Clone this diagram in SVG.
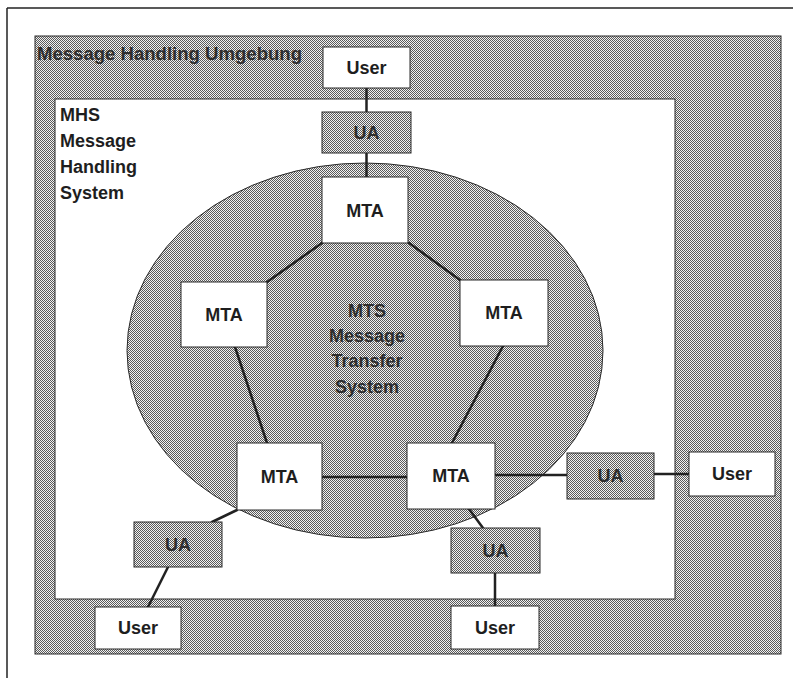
<svg xmlns="http://www.w3.org/2000/svg" width="799" height="678" viewBox="0 0 799 678">
<defs>
<pattern id="dots" width="2" height="2" patternUnits="userSpaceOnUse">
<rect width="2" height="2" fill="#f2f2f2"/>
<rect width="1" height="1" fill="#5a5a5a"/>
<rect x="1" y="1" width="1" height="1" fill="#5a5a5a"/>
</pattern>
<style>
text{font-family:"Liberation Sans",Arial,sans-serif;font-weight:bold;font-size:18px;}
.lbl{fill:#1e1e1e;text-anchor:middle;}
.dim{fill:#2e2e2e;}
.dimc{fill:#2e2e2e;text-anchor:middle;}
.white{fill:#ffffff;stroke:#2a2a2a;stroke-width:1;}
.gray{fill:url(#dots);stroke:#2a2a2a;stroke-width:1;}
.conn line{stroke:#222;stroke-width:2.5;stroke-linecap:round;}
</style>
</defs>
<rect width="799" height="678" fill="#ffffff"/>
<g id="frame" stroke="#222" stroke-width="1.5" fill="none">
<line x1="7" y1="8" x2="793" y2="8"/>
<line x1="7" y1="8" x2="7" y2="678"/>
</g>
<g id="environment">
<rect class="gray" x="35" y="36" width="746" height="618"/>
<text class="dim" x="37" y="60" textLength="265" lengthAdjust="spacingAndGlyphs">Message Handling Umgebung</text>
</g>
<g id="mhs">
<rect class="white" x="55" y="99" width="620" height="500"/>
<text class="lbl" style="text-anchor:start" x="60" y="121">MHS</text>
<text class="lbl" style="text-anchor:start" x="60" y="147">Message</text>
<text class="lbl" style="text-anchor:start" x="60" y="173">Handling</text>
<text class="lbl" style="text-anchor:start" x="60" y="199">System</text>
</g>
<g id="mts">
<ellipse class="gray" cx="365" cy="350.5" rx="238" ry="187.5"/>
<text class="dimc" x="367" y="317">MTS</text>
<text class="dimc" x="367" y="342">Message</text>
<text class="dimc" x="367" y="367">Transfer</text>
<text class="dimc" x="367" y="393">System</text>
</g>
<g id="connectors" class="conn">
<line x1="366.5" y1="88" x2="366.5" y2="112"/>
<line x1="366.5" y1="153" x2="366.5" y2="177"/>
<line x1="322" y1="243" x2="267" y2="282"/>
<line x1="409" y1="243" x2="460" y2="280"/>
<line x1="235" y1="347" x2="267" y2="443"/>
<line x1="503" y1="346" x2="452" y2="443"/>
<line x1="322" y1="477" x2="407" y2="477"/>
<line x1="495" y1="475" x2="567" y2="475"/>
<line x1="654" y1="474" x2="689" y2="474"/>
<line x1="469" y1="509" x2="483" y2="528"/>
<line x1="495" y1="573" x2="495" y2="606"/>
<line x1="237" y1="510" x2="212" y2="522"/>
<line x1="168" y1="567" x2="148" y2="607"/>
</g>
<g id="user-top">
<rect class="white" x="323" y="47" width="87" height="41"/>
<text class="lbl" x="366.5" y="74">User</text>
</g>
<g id="ua-top">
<rect class="gray" x="322" y="112" width="89" height="41"/>
<text class="dimc" x="366.5" y="139">UA</text>
</g>
<g id="mta-top">
<rect class="white" x="322" y="177" width="86" height="66"/>
<text class="lbl" x="365" y="217">MTA</text>
</g>
<g id="mta-left">
<rect class="white" x="181" y="282" width="86" height="65"/>
<text class="lbl" x="224" y="321">MTA</text>
</g>
<g id="mta-right">
<rect class="white" x="460" y="280" width="88" height="66"/>
<text class="lbl" x="504" y="319">MTA</text>
</g>
<g id="mta-bottom-left">
<rect class="white" x="237" y="443" width="85" height="67"/>
<text class="lbl" x="279.5" y="483">MTA</text>
</g>
<g id="mta-bottom-right">
<rect class="white" x="407" y="443" width="88" height="66"/>
<text class="lbl" x="451" y="482">MTA</text>
</g>
<g id="ua-right">
<rect class="gray" x="567" y="453" width="87" height="46"/>
<text class="dimc" x="610.5" y="482">UA</text>
</g>
<g id="user-right">
<rect class="white" x="689" y="452" width="86" height="44"/>
<text class="lbl" x="732" y="480">User</text>
</g>
<g id="ua-bottom-center">
<rect class="gray" x="451" y="528" width="89" height="45"/>
<text class="dimc" x="495.5" y="557">UA</text>
</g>
<g id="user-bottom-center">
<rect class="white" x="451" y="606" width="88" height="43"/>
<text class="lbl" x="495" y="634">User</text>
</g>
<g id="ua-bottom-left">
<rect class="gray" x="134" y="522" width="88" height="45"/>
<text class="dimc" x="178" y="551">UA</text>
</g>
<g id="user-bottom-left">
<rect class="white" x="95" y="607" width="86" height="42"/>
<text class="lbl" x="138" y="634">User</text>
</g>
</svg>
